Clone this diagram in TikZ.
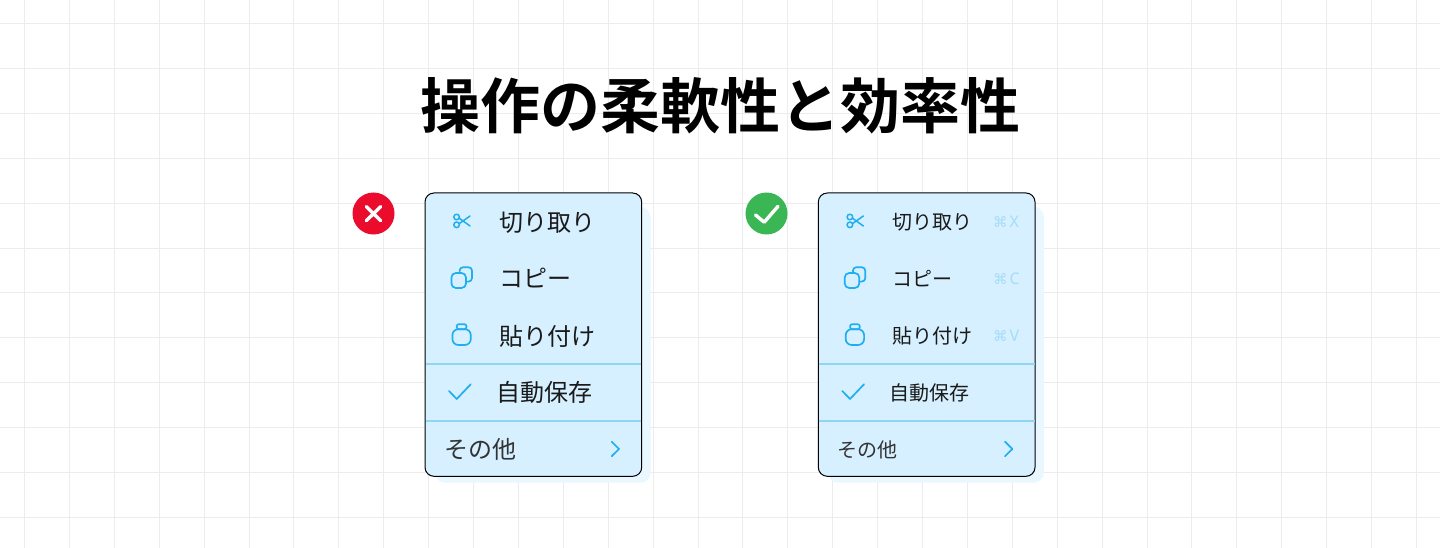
\documentclass[tikz,border=0pt]{standalone}
\usepackage{fontspec}
\setmainfont{Noto Sans}
\newfontfamily\jp{Noto Sans CJK JP}
\newfontfamily\jpb{Noto Sans CJK JP Bold}
\newfontfamily\sym{DejaVu Sans}
\definecolor{gridc}{HTML}{ECECEE}
\definecolor{panel}{HTML}{D6F0FF}
\definecolor{shade}{HTML}{E9F7FF}
\definecolor{rule}{HTML}{8FD6F5}
\definecolor{iconc}{HTML}{1FAEF0}
\definecolor{keyc}{HTML}{A5DCF8}
\definecolor{ink}{HTML}{1A1A1A}
\definecolor{softink}{HTML}{333333}
\definecolor{badred}{HTML}{EA0B2D}
\definecolor{goodgreen}{HTML}{3AB655}
\tikzset{
  every node/.style={inner sep=0pt,outer sep=0pt},
  gridline/.style={draw=gridc,line width=1pt},
  panelbox/.style={fill=panel,draw=black,line width=1pt,rounded corners=9pt},
  shadebox/.style={fill=shade,rounded corners=10pt},
  divider/.style={draw=rule,line width=1.2pt},
  icon/.style={draw=iconc,line width=1.7pt,line cap=round,line join=round},
  thinicon/.style={draw=iconc,line width=1.5pt,line cap=round,line join=round},
  badgemark/.style={draw=white,line width=3.4pt,line cap=round,line join=round},
  itemlarge/.style={anchor=west,text=ink,font=\jp\fontsize{24}{28}\selectfont},
  itemsmall/.style={anchor=west,text=ink,font=\jp\fontsize{20}{24}\selectfont},
  keylabel/.style={anchor=west,text=keyc,font=\fontsize{16}{18}\selectfont},
}
\newcommand{\keycap}{{\sym\fontsize{14.5}{16}\selectfont ⌘}\hspace{2pt}}
\newcommand{\menuart}[1]{%
  \begin{scope}[xshift=#1pt]
    \path[shadebox] (435,207) rectangle (650.5,482.7);
    \path[panelbox] (425,193) rectangle (641.7,476.3);
    \draw[divider] (425.5,364) -- (641.2,364);
    \draw[divider] (425.5,421) -- (641.2,421);
    % scissors
    \draw[thinicon] (456.6,217) circle (2.8);
    \draw[thinicon] (456.6,224.8) circle (2.8);
    \draw[thinicon] (459.2,218.2) -- (470,226);
    \draw[thinicon] (459.2,223.6) -- (470,216);
    % copy
    \draw[icon,rounded corners=3.5pt] (459.6,273) -- (459.6,267.2) -- (472,267.2) -- (472,281.6) -- (466,281.6);
    \draw[icon,rounded corners=4.5pt] (451.4,273) rectangle (466,288);
    % paste
    \draw[icon,rounded corners=6pt] (452.4,329.2) rectangle (470.8,345);
    \draw[icon,rounded corners=2pt] (456.8,329.2) rectangle (466.4,324.2);
    % tick
    \draw[icon] (449,391) -- (456.7,399) -- (470.7,384.3);
    % chevron
    \draw[icon] (611.7,441.7) -- (619,449) -- (611.7,456.2);
  \end{scope}%
}
\begin{document}
\begin{tikzpicture}[x=1pt,y=-1pt]
  \useasboundingbox (0,0) rectangle (1440,548);
  \fill[white] (0,0) rectangle (1440,548);
  % grid
  \foreach \gx in {0,...,31} \draw[gridline] ({24.5+44.9*\gx},0) -- ({24.5+44.9*\gx},548);
  \foreach \gy in {0,...,11} \draw[gridline] (0,{23.5+44.9*\gy}) -- (1440,{23.5+44.9*\gy});

  \node (title) at (720,106) {\jpb\fontsize{60}{70}\selectfont 操作の柔軟性と効率性};

  % bad badge
  \node[circle,fill=badred,minimum size=42pt] (bad) at (373.5,213.5) {};
  \coordinate (b1) at (366.3,206.6);
  \coordinate (b2) at (380.7,220.7);
  \coordinate (b3) at (380.7,206.6);
  \coordinate (b4) at (366.3,220.7);
  \draw[badgemark] (b1) -- (b2);
  \draw[badgemark] (b3) -- (b4);

  % good badge
  \node[circle,fill=goodgreen,minimum size=42pt] (good) at (766.5,213.5) {};
  \coordinate (g1) at (755.5,215);
  \coordinate (g2) at (764.2,222.2);
  \coordinate (g3) at (778,206.3);
  \draw[badgemark] (g1) -- (g2) -- (g3);

  \menuart{0}
  \menuart{393.3}

  % left menu
  \node[itemlarge] (l1) at (499,222.5) {切り取り};
  \node[itemlarge] (l2) at (499.5,278.5) {コピー};
  \node[itemlarge] (l3) at (499,336) {貼り付け};
  \node[itemlarge] (l4) at (496.2,392.5) {自動保存};
  \node[itemlarge,text=softink] (l5) at (444.2,449.5) {その他};

  % right menu
  \node[itemsmall] (r1) at (892.7,222.3) {切り取り};
  \node[itemsmall] (r2) at (892.6,278.5) {コピー};
  \node[itemsmall] (r3) at (892.7,335.8) {貼り付け};
  \node[itemsmall] (r4) at (889.7,392.5) {自動保存};
  \node[itemsmall,text=softink] (r5) at (837.5,449.5) {その他};

  \node[keylabel] (k1) at (993,222) {\keycap X};
  \node[keylabel] (k2) at (993,279) {\keycap C};
  \node[keylabel] (k3) at (993,336) {\keycap V};
\end{tikzpicture}
\end{document}
